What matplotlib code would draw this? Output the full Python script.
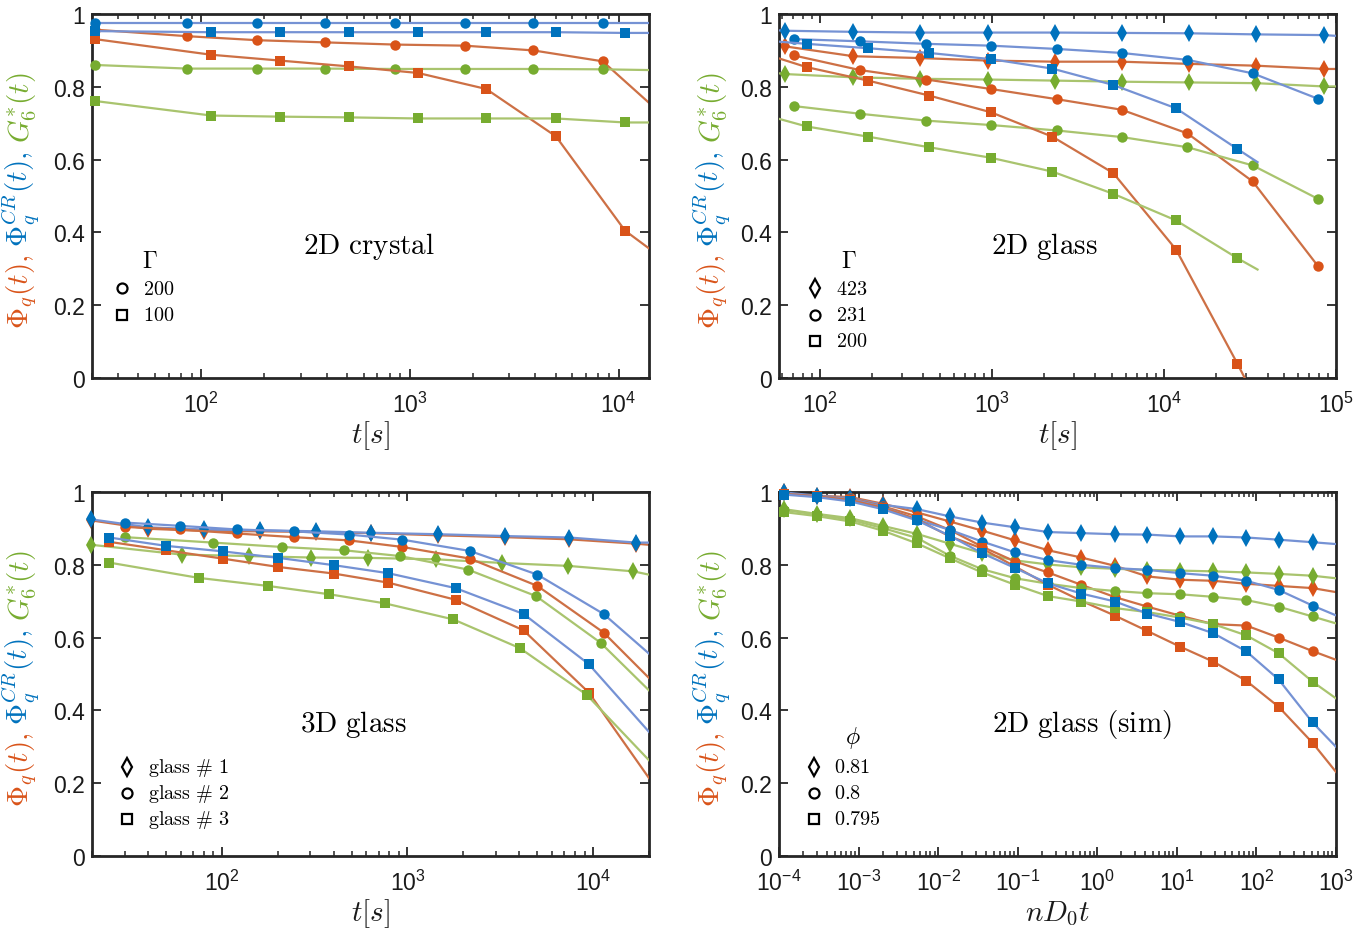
import matplotlib
matplotlib.use('Agg')
import matplotlib.pyplot as plt
import matplotlib.ticker as mticker
import numpy as np

plt.rcParams['mathtext.fontset'] = 'cm'
plt.rcParams['font.family'] = ['Liberation Sans', 'DejaVu Sans']

# marker colours and (lighter) line colours
C_PHI, C_CR, C_G6 = '#D95319', '#0072BD', '#77AC30'
L_PHI, L_CR, L_G6 = '#CD7045', '#7592D4', '#A9C46E'

# ---------------- panel 1 : 2D crystal ----------------
p1_t_circ = [31, 86, 186, 393, 851, 1833, 3900, 8400]
p1_t_sq = [31, 112, 239, 512, 1094, 2323, 5011, 10740]
p1_phi_circ = [0.957, 0.939, 0.928, 0.922, 0.916, 0.913, 0.900, 0.870]
p1_cr_circ = [0.975, 0.975, 0.975, 0.975, 0.975, 0.975, 0.975, 0.975]
p1_g6_circ = [0.860, 0.850, 0.850, 0.850, 0.849, 0.849, 0.849, 0.848]
p1_phi_sq = [0.931, 0.888, 0.872, 0.856, 0.838, 0.794, 0.664, 0.405]
p1_cr_sq = [0.953, 0.950, 0.950, 0.950, 0.950, 0.950, 0.950, 0.948]
p1_g6_sq = [0.761, 0.721, 0.718, 0.716, 0.713, 0.713, 0.713, 0.702]

# ---------------- panel 2 : 2D glass ----------------
p2_t_dia = [63, 157, 381, 953, 2339, 5680, 14020, 34360, 84900]
p2_t_circ = [71, 171, 417, 988, 2385, 5680, 13700, 32800, 78700]
p2_t_sq = [84, 191, 432, 988, 2248, 5080, 11760, 26760]
p2_phi_dia = [0.911, 0.884, 0.879, 0.872, 0.869, 0.869, 0.863, 0.858, 0.849]
p2_cr_dia = [0.954, 0.951, 0.949, 0.949, 0.949, 0.948, 0.947, 0.944, 0.942]
p2_g6_dia = [0.835, 0.826, 0.822, 0.820, 0.817, 0.814, 0.812, 0.810, 0.801]
p2_phi_circ = [0.886, 0.846, 0.820, 0.794, 0.766, 0.737, 0.672, 0.540, 0.307]
p2_cr_circ = [0.931, 0.925, 0.918, 0.913, 0.904, 0.893, 0.874, 0.837, 0.767]
p2_g6_circ = [0.747, 0.726, 0.707, 0.695, 0.680, 0.662, 0.634, 0.584, 0.492]
p2_phi_sq = [0.854, 0.817, 0.776, 0.730, 0.663, 0.563, 0.353, 0.039]
p2_cr_sq = [0.918, 0.906, 0.893, 0.876, 0.850, 0.805, 0.741, 0.629]
p2_g6_sq = [0.691, 0.663, 0.634, 0.605, 0.567, 0.506, 0.433, 0.329]

# ---------------- panel 3 : 3D glass ----------------
p3_t_dia = [19.8, 39.9, 80.6, 161, 322, 634, 1464, 3342, 7430, 17060]
p3_t_dia_g6 = [19.8, 60.8, 140, 303, 610, 1432, 3250, 7350, 16450]
p3_t_circ = [30, 59.8, 121, 244, 486, 940, 2170, 5010, 11380]
p3_t_circ_g6 = [30, 89.7, 211, 454, 912, 2113, 4930, 10960]
p3_t_sq = [24.8, 50.1, 101, 202, 401, 787, 1815, 4220, 9480]
p3_t_sq_g6 = [24.8, 75.2, 177, 380, 757, 1766, 4035, 9230]
p3_phi_dia = [0.922, 0.899, 0.893, 0.892, 0.890, 0.887, 0.881, 0.876, 0.870, 0.858]
p3_cr_dia = [0.925, 0.903, 0.897, 0.895, 0.892, 0.888, 0.884, 0.879, 0.875, 0.861]
p3_g6_dia = [0.855, 0.828, 0.824, 0.820, 0.819, 0.815, 0.805, 0.797, 0.782]
p3_phi_circ = [0.904, 0.897, 0.886, 0.876, 0.867, 0.849, 0.817, 0.742, 0.614]
p3_cr_circ = [0.916, 0.907, 0.897, 0.892, 0.883, 0.869, 0.838, 0.773, 0.665]
p3_g6_circ = [0.876, 0.861, 0.849, 0.840, 0.824, 0.787, 0.714, 0.586]
p3_phi_sq = [0.863, 0.840, 0.817, 0.794, 0.776, 0.751, 0.704, 0.620, 0.449]
p3_cr_sq = [0.875, 0.852, 0.837, 0.819, 0.799, 0.777, 0.736, 0.665, 0.527]
p3_g6_sq = [0.806, 0.764, 0.742, 0.719, 0.694, 0.650, 0.571, 0.443]

# ---------------- panel 4 : 2D glass (sim) ----------------
p4_t = [1.14e-4, 2.96e-4, 7.9e-4, 2.0e-3, 5.4e-3, 1.4e-2, 3.56e-2, 9.3e-2, 0.24,
        0.63, 1.68, 4.27, 11.0, 28.7, 74.8, 190, 507]
p4_phi_dia = [0.999, 0.990, 0.986, 0.968, 0.944, 0.919, 0.894, 0.867, 0.840,
              0.820, 0.797, 0.768, 0.759, 0.756, 0.748, 0.742, 0.736]
p4_cr_dia = [0.999, 0.990, 0.983, 0.965, 0.953, 0.933, 0.916, 0.903, 0.890,
             0.887, 0.884, 0.883, 0.878, 0.878, 0.875, 0.869, 0.862]
p4_g6_dia = [0.953, 0.940, 0.928, 0.907, 0.885, 0.858, 0.832, 0.812, 0.801,
             0.793, 0.789, 0.786, 0.784, 0.782, 0.779, 0.775, 0.770]
p4_phi_circ = [0.996, 0.988, 0.983, 0.961, 0.933, 0.896, 0.850, 0.809, 0.779,
               0.745, 0.711, 0.685, 0.660, 0.637, 0.633, 0.600, 0.563]
p4_cr_circ = [0.996, 0.988, 0.981, 0.959, 0.924, 0.896, 0.864, 0.834, 0.813,
              0.800, 0.791, 0.786, 0.777, 0.770, 0.756, 0.731, 0.688]
p4_g6_circ = [0.951, 0.938, 0.924, 0.901, 0.874, 0.825, 0.788, 0.763, 0.748,
              0.736, 0.728, 0.722, 0.719, 0.712, 0.703, 0.685, 0.658]
p4_phi_sq = [0.995, 0.988, 0.978, 0.957, 0.925, 0.878, 0.845, 0.795, 0.745,
             0.701, 0.660, 0.618, 0.575, 0.534, 0.481, 0.410, 0.311]
p4_cr_sq = [0.993, 0.986, 0.974, 0.953, 0.922, 0.880, 0.832, 0.791, 0.749,
            0.721, 0.699, 0.666, 0.643, 0.612, 0.562, 0.485, 0.367]
p4_g6_sq = [0.945, 0.934, 0.919, 0.894, 0.859, 0.818, 0.779, 0.745, 0.714,
            0.699, 0.681, 0.670, 0.655, 0.637, 0.606, 0.557, 0.479]

# series: (marker, quantity, t, y, line head (t, y) or None, line tail (t, y) or None)
panel1 = [
    ('o', 'phi', p1_t_circ, p1_phi_circ, None, (1.4e4, 0.756)),
    ('o', 'g6', p1_t_circ, p1_g6_circ, None, (1.4e4, 0.846)),
    ('o', 'cr', p1_t_circ, p1_cr_circ, None, (1.4e4, 0.975)),
    ('s', 'phi', p1_t_sq, p1_phi_sq, None, (1.4e4, 0.356)),
    ('s', 'g6', p1_t_sq, p1_g6_sq, None, (1.4e4, 0.702)),
    ('s', 'cr', p1_t_sq, p1_cr_sq, None, (1.4e4, 0.948)),
]
panel2 = [
    ('d', 'phi', p2_t_dia, p2_phi_dia, (58, 0.915), (1e5, 0.849)),
    ('d', 'g6', p2_t_dia, p2_g6_dia, (58, 0.837), (1e5, 0.801)),
    ('d', 'cr', p2_t_dia, p2_cr_dia, (58, 0.955), (1e5, 0.940)),
    ('o', 'phi', p2_t_circ, p2_phi_circ, None, None),
    ('o', 'g6', p2_t_circ, p2_g6_circ, None, None),
    ('o', 'cr', p2_t_circ, p2_cr_circ, None, None),
    ('s', 'phi', p2_t_sq, p2_phi_sq, (58, 0.878), (29500, 0.0)),
    ('s', 'g6', p2_t_sq, p2_g6_sq, (58, 0.712), (35000, 0.298)),
    ('s', 'cr', p2_t_sq, p2_cr_sq, (58, 0.924), (35000, 0.593)),
]
panel3 = [
    ('d', 'phi', p3_t_dia, p3_phi_dia, None, (2e4, 0.855)),
    ('d', 'g6', p3_t_dia_g6, p3_g6_dia, None, (2e4, 0.773)),
    ('d', 'cr', p3_t_dia, p3_cr_dia, None, (2e4, 0.861)),
    ('o', 'phi', p3_t_circ, p3_phi_circ, None, (2e4, 0.489)),
    ('o', 'g6', p3_t_circ_g6, p3_g6_circ, None, (2e4, 0.455)),
    ('o', 'cr', p3_t_circ, p3_cr_circ, None, (2e4, 0.556)),
    ('s', 'phi', p3_t_sq, p3_phi_sq, None, (2e4, 0.214)),
    ('s', 'g6', p3_t_sq_g6, p3_g6_sq, None, (2e4, 0.263)),
    ('s', 'cr', p3_t_sq, p3_cr_sq, None, (2e4, 0.341)),
]
panel4 = [
    ('d', 'phi', p4_t, p4_phi_dia, (1e-4, 0.999), (1e3, 0.725)),
    ('d', 'g6', p4_t, p4_g6_dia, (1e-4, 0.954), (1e3, 0.763)),
    ('d', 'cr', p4_t, p4_cr_dia, (1e-4, 0.999), (1e3, 0.857)),
    ('o', 'phi', p4_t, p4_phi_circ, (1e-4, 0.996), (1e3, 0.539)),
    ('o', 'g6', p4_t, p4_g6_circ, (1e-4, 0.952), (1e3, 0.639)),
    ('o', 'cr', p4_t, p4_cr_circ, (1e-4, 0.996), (1e3, 0.661)),
    ('s', 'phi', p4_t, p4_phi_sq, (1e-4, 0.995), (1e3, 0.231)),
    ('s', 'g6', p4_t, p4_g6_sq, (1e-4, 0.946), (1e3, 0.433)),
    ('s', 'cr', p4_t, p4_cr_sq, (1e-4, 0.993), (1e3, 0.300)),
]

colors = {'phi': (C_PHI, L_PHI), 'cr': (C_CR, L_CR), 'g6': (C_G6, L_G6)}
msize = {'o': 7.5, 's': 6.8, 'd': 9}

W, H = 1371, 929
fig = plt.figure(figsize=(W / 100, H / 100), dpi=100)


def make_axes(x0, y_top, x1, y_bot):
    return fig.add_axes([x0 / W, 1 - y_bot / H, (x1 - x0) / W, (y_bot - y_top) / H])


ax1 = make_axes(92, 15, 649, 379)
ax2 = make_axes(779, 15, 1336, 379)
ax3 = make_axes(92, 493, 649, 857)
ax4 = make_axes(779, 493, 1336, 857)


def log_fmt(v, pos):
    e = int(round(np.log10(v)))
    return r'$\mathregular{10^{%d}}$' % e


def style(ax, xlim, xlabel):
    ax.set_xscale('log')
    ax.set_xlim(*xlim)
    ax.set_ylim(0, 1)
    ax.set_yticks([0, 0.2, 0.4, 0.6, 0.8, 1])
    ax.yaxis.set_major_formatter(mticker.FuncFormatter(lambda v, p: '%g' % v))
    ax.xaxis.set_major_locator(mticker.LogLocator(base=10, numticks=20))
    ax.xaxis.set_minor_locator(mticker.LogLocator(base=10, subs=np.arange(2, 10), numticks=100))
    ax.xaxis.set_major_formatter(mticker.FuncFormatter(log_fmt))
    ax.xaxis.set_minor_formatter(mticker.NullFormatter())
    ax.tick_params(which='both', direction='in', top=True, right=True, colors='#262626',
                   labelcolor='#1a1a1a', labelsize=16.5)
    ax.tick_params(which='major', length=6.5, width=1.3)
    ax.tick_params(which='minor', length=3.6, width=1.1)
    ax.tick_params(axis='y', pad=5)
    ax.tick_params(axis='x', pad=10)
    for sp in ax.spines.values():
        sp.set_linewidth(2.0)
        sp.set_color('#262626')
    ax.text(0.5, -0.155, xlabel, transform=ax.transAxes, ha='center', va='center',
            fontsize=21, color='#1a1a1a')


def draw(ax, series):
    z = 2
    for mk, q, t, y, head, tail in series:
        mc, lc = colors[q]
        lt = list(t)
        ly = list(y)
        if head is not None:
            lt = [head[0]] + lt
            ly = [head[1]] + ly
        if tail is not None:
            lt = lt + [tail[0]]
            ly = ly + [tail[1]]
        ax.plot(lt, ly, '-', color=lc, lw=1.6, zorder=z, clip_on=True)
        ax.plot(t, y, linestyle='none', marker=mk, color=mc, markersize=msize[mk],
                markeredgewidth=0, zorder=z + 0.5, clip_on=False)
        z += 1


def legend(ax, title, title_x, labels, mks, x_m, x_t, ys, title_y):
    if title is not None:
        ax.text(title_x, title_y, title, transform=ax.transAxes, ha='center',
                va='center', fontsize=17)
    for lab, mk, yy in zip(labels, mks, ys):
        ax.plot([x_m], [yy], transform=ax.transAxes, marker=mk, markersize=7.2 if mk != 'd' else 9,
                mfc='none', mec='k', mew=1.6, linestyle='none', clip_on=False)
        ax.text(x_t, yy, lab, transform=ax.transAxes, ha='left', va='center', fontsize=14.5)


def color_ylabel(ax, xfrac):
    parts = [(r'$\Phi_q(t),$', C_PHI), (r'$\Phi_q^{CR}(t),$', C_CR), (r'$G_6^{*}(t)$', C_G6)]
    renderer = fig.canvas.get_renderer()
    texts = []
    heights = []
    for s, c in parts:
        tx = fig.text(0, 0, s, rotation=90, ha='center', va='bottom', fontsize=21, color=c)
        bb = tx.get_window_extent(renderer)
        texts.append(tx)
        heights.append(bb.height)
    gap = 8
    total = sum(heights) + gap * (len(parts) - 1)
    xd, yd = ax.transAxes.transform((xfrac, 0.5))
    ystart = yd - total / 2 - 4
    for tx, h in zip(texts, heights):
        tx.set_position((xd / W, ystart / H))
        ystart += h + gap


style(ax1, (30, 1.4e4), r'$t[s]$')
style(ax2, (58, 1e5), r'$t[s]$')
style(ax3, (20, 2e4), r'$t[s]$')
style(ax4, (1e-4, 1e3), r'$nD_0t$')

draw(ax1, panel1)
draw(ax2, panel2)
draw(ax3, panel3)
draw(ax4, panel4)

ax1.text(0.497, 0.365, r'$\mathrm{2D\ crystal}$', transform=ax1.transAxes, ha='center', va='center', fontsize=21)
ax2.text(0.476, 0.365, r'$\mathrm{2D\ glass}$', transform=ax2.transAxes, ha='center', va='center', fontsize=21)
ax3.text(0.470, 0.364, r'$\mathrm{3D\ glass}$', transform=ax3.transAxes, ha='center', va='center', fontsize=21)
ax4.text(0.544, 0.364, r'$\mathrm{2D\ glass\ (sim)}$', transform=ax4.transAxes, ha='center', va='center', fontsize=21)

legend(ax1, r'$\Gamma$', 0.104, [r'$\mathrm{200}$', r'$\mathrm{100}$'], ['o', 's'],
       0.054, 0.092, [0.246, 0.174], 0.322)
legend(ax2, r'$\Gamma$', 0.126, [r'$\mathrm{423}$', r'$\mathrm{231}$', r'$\mathrm{200}$'], ['d', 'o', 's'],
       0.065, 0.102, [0.246, 0.174, 0.102], 0.322)
legend(ax3, None, 0, [r'$\mathrm{glass\ \#\ 1}$', r'$\mathrm{glass\ \#\ 2}$', r'$\mathrm{glass\ \#\ 3}$'],
       ['d', 'o', 's'], 0.063, 0.100, [0.245, 0.174, 0.102], 0)
legend(ax4, r'$\phi$', 0.133, [r'$\mathrm{0.81}$', r'$\mathrm{0.8}$', r'$\mathrm{0.795}$'], ['d', 'o', 's'],
       0.063, 0.099, [0.245, 0.174, 0.102], 0.328)

for ax, xf in [(ax1, -0.126), (ax2, -0.120), (ax3, -0.126), (ax4, -0.120)]:
    color_ylabel(ax, xf)

fig.savefig('out.png', dpi=100)
